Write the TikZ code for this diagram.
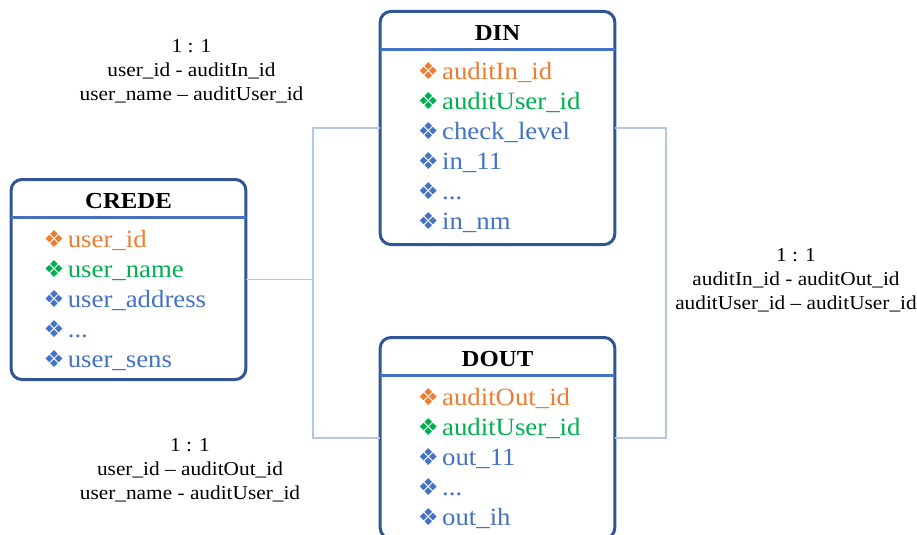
\documentclass[tikz,border=0pt]{standalone}
\usepackage{fontspec}
\setmainfont[FakeStretch=1.08]{Liberation Serif}
\newfontfamily\diafont{DejaVu Sans}
\usetikzlibrary{arrows.meta}
\definecolor{edgeblue}{HTML}{2F5597}
\definecolor{rowblue}{HTML}{4472C4}
\definecolor{linkblue}{HTML}{B4C7E7}
\definecolor{keyorange}{HTML}{ED7D31}
\definecolor{keygreen}{HTML}{00B050}
\newcommand{\dia}{{\diafont\fontsize{17.5pt}{17.5pt}\selectfont ❖}\hspace{2.5pt}}
\tikzset{%
  table/.style = {rectangle, rounded corners=8pt, draw=edgeblue, line width=2.25pt,
                  fill=white, minimum width=176pt, inner sep=0pt, outer sep=0pt},
  head/.style  = {rectangle, minimum width=176pt, minimum height=28.5pt, inner sep=0pt,
                  outer sep=0pt, anchor=north, text height=16pt, text depth=1.4pt,
                  font=\bfseries\fontsize{17.2pt}{20pt}\selectfont},
  headline/.style = {draw=rowblue, line width=1.6pt},
  item/.style  = {rectangle, text width=135pt, align=left, inner sep=0pt, outer sep=0pt,
                  text height=13pt, text depth=4pt, text=rowblue,
                  font=\fontsize{18.6pt}{20pt}\selectfont},
  itemid/.style   = {item, text=keyorange},
  itemuser/.style = {item, text=keygreen},
  link/.style  = {draw=linkblue, line width=0.8pt},
  note/.style  = {align=center, inner sep=0pt, font=\fontsize{14.8pt}{18pt}\selectfont},
}
\begin{document}
\begin{tikzpicture}[x=0.75pt, y=-0.75pt, node distance=22.5pt]

  \clip (0,0) rectangle (917,535);

  % connectors go first, tables sit on top
  \coordinate (onJoin)  at (313,279.5);
  \coordinate (onBend)  at (666,279.5);

  \node (onCREDE) [table, minimum height=150pt]   at (128.5,279.5) {};
  \node (onDIN)   [table, minimum height=174.75pt] at (497.5,128)  {};
  \node (onDOUT)  [table, minimum height=150.75pt] at (497.5,438)  {};

  \draw[link] (onCREDE.east) -- (onJoin);
  \draw[link] (onDIN.west) -| (onJoin) |- (onDOUT.west);
  \draw[link] (onDIN.east) -| (onBend) |- (onDOUT.east);

  \node (onCREDEhead) [head] at (onCREDE.north) {CREDE};
  \node (onDINhead)   [head] at (onDIN.north)   {DIN};
  \node (onDOUThead)  [head] at (onDOUT.north)  {DOUT};
  \draw[headline] (onCREDEhead.south west) -- (onCREDEhead.south east);
  \draw[headline] (onDINhead.south west)   -- (onDINhead.south east);
  \draw[headline] (onDOUThead.south west)  -- (onDOUThead.south east);

  \node (onC1) [itemid, below of=onCREDEhead, xshift=3.8pt, yshift=-9.5pt] {\dia user\_id};
  \node (onC2) [itemuser, below of=onC1] {\dia user\_name};
  \node (onC3) [item, below of=onC2] {\dia user\_address};
  \node (onC4) [item, below of=onC3] {\dia ...};
  \node (onC5) [item, below of=onC4] {\dia user\_sens};

  \node (onI1) [itemid, below of=onDINhead, xshift=7.8pt, yshift=-9.5pt] {\dia auditIn\_id};
  \node (onI2) [itemuser, below of=onI1] {\dia auditUser\_id};
  \node (onI3) [item, below of=onI2] {\dia check\_level};
  \node (onI4) [item, below of=onI3] {\dia in\_11};
  \node (onI5) [item, below of=onI4] {\dia ...};
  \node (onI6) [item, below of=onI5] {\dia in\_nm};

  \node (onO1) [itemid, below of=onDOUThead, xshift=7.8pt, yshift=-9.5pt] {\dia auditOut\_id};
  \node (onO2) [itemuser, below of=onO1] {\dia auditUser\_id};
  \node (onO3) [item, below of=onO2] {\dia out\_11};
  \node (onO4) [item, below of=onO3] {\dia ...};
  \node (onO5) [item, below of=onO4] {\dia out\_ih};

  \node (on_note_1) [note] at (191.5,71)  {1 : 1 \\ user\_id - auditIn\_id \\ user\_name -- auditUser\_id};
  \node (on_note_2) [note] at (796,280)   {1 : 1 \\ auditIn\_id - auditOut\_id \\ auditUser\_id -- auditUser\_id};
  \node (on_note_3) [note] at (190,470)   {1 : 1 \\ user\_id -- auditOut\_id \\ user\_name - auditUser\_id};

\end{tikzpicture}
\end{document}
